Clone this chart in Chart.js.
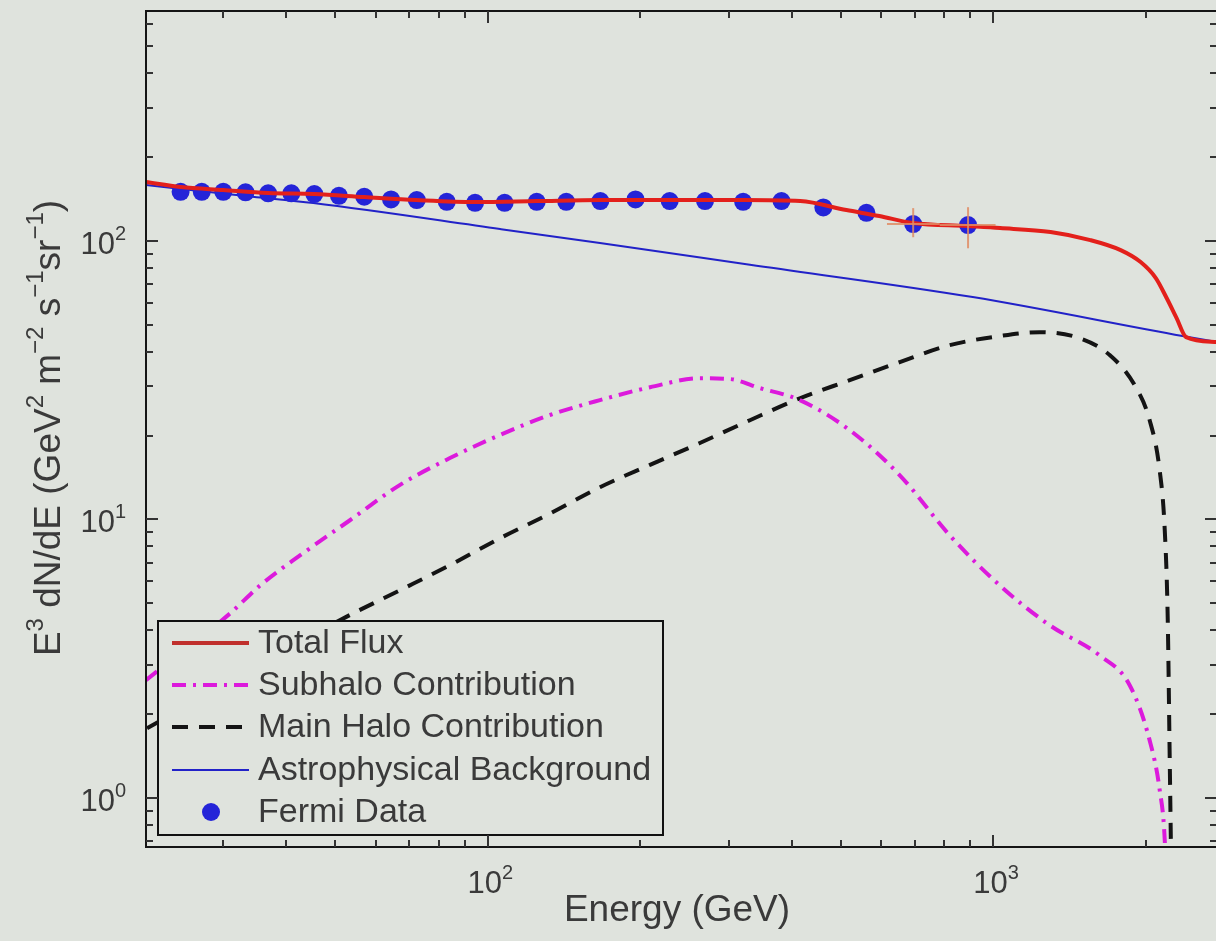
<!DOCTYPE html>
<html>
<head>
<meta charset="utf-8">
<script src="https://cdn.jsdelivr.net/npm/chart.js@4.4.1/dist/chart.umd.min.js"></script>
<style>
  html, body { margin: 0; padding: 0; background: #dfe3dd; overflow: hidden; }
  #wrap { width: 1216px; height: 941px; overflow: hidden; }
</style>
</head>
<body>
<div id="wrap"><canvas id="chart" width="1220" height="941"></canvas></div>
<script>
// Energies in GeV, fluxes as E^3 dN/dE (GeV^2 m^-2 s^-1 sr^-1)
const fermiEnergy = [24.7, 27.2, 30.0, 33.2, 36.8, 40.9, 45.4, 50.8, 57.0, 64.4, 72.4, 83.0, 94.4,
  108, 125, 143, 167, 196, 229, 269, 320, 381, 461, 561, 694, 891];
const fermiFlux = [149.9, 149.9, 149.9, 149.2, 148.0, 148.0, 147.1, 145.0, 143.9, 140.8, 140.0, 138.0, 136.9,
  136.9, 138.0, 138.0, 138.8, 140.8, 138.8, 138.8, 138.0, 138.8, 131.8, 126.0, 114.8, 113.9];
// error bars (only the last bins have bars wider than the markers)
const fermiFluxLow  = [null, null, null, null, null, null, null, null, null, null, null, null, null,
  null, null, null, null, null, null, null, null, null, null, null, 103, 94];
const fermiFluxHigh = [null, null, null, null, null, null, null, null, null, null, null, null, null,
  null, null, null, null, null, null, null, null, null, null, null, 131, 132];
const fermiEnergyLow  = [null, null, null, null, null, null, null, null, null, null, null, null, null,
  null, null, null, null, null, null, null, null, null, null, null, 616, 783];
const fermiEnergyHigh = [null, null, null, null, null, null, null, null, null, null, null, null, null,
  null, null, null, null, null, null, null, null, null, null, null, 783, 1010];

const totalEnergy = [21.1, 24.7, 30.0, 36.8, 45.4, 57.0, 72.2, 94.4, 125, 167, 229, 320, 415, 512, 595,
  693, 888, 1031, 1297, 1555, 1785, 1955, 2095, 2202, 2303, 2405, 2770];
const totalFlux = [162.5, 155.9, 152.1, 148.4, 147.1, 143.5, 140.0, 137.7, 138.8, 140.0, 140.0, 140.0, 138.8,
  128.9, 122.7, 115.8, 112.9, 111.1, 107.5, 100.6, 92.6, 83.9, 73.5, 62.2, 52.8, 45.1, 43.3];

const subhaloEnergy = [21.1, 30.95, 35.5, 42.6, 53.4, 67.1, 84.2, 105.8, 132.8, 166.7, 209.4, 262.8, 301.2,
  345.3, 414.2, 520, 653, 819.6, 1029, 1292, 1622, 1860, 2037, 2132, 2182, 2202];
const subhaloFlux = [2.65, 4.60, 5.80, 7.44, 9.93, 13.3, 16.6, 20.1, 23.7, 26.8, 29.8, 32.1, 31.9,
  29.6, 26.8, 20.9, 14.4, 8.77, 5.80, 4.17, 3.25, 2.54, 1.61, 1.07, 0.705, 0.43];

const mainHaloEnergy = [21.2, 52.3, 67.1, 84.2, 105.8, 132.8, 166.7, 209.4, 262.8, 330, 414.2, 520, 653,
  819.6, 1029, 1234, 1481, 1698, 1903, 2037, 2132, 2182, 2212, 2232, 2252];
const mainHaloFlux = [1.78, 4.45, 5.57, 6.85, 8.56, 10.5, 13.05, 15.7, 18.8, 22.7, 27.2, 31.6, 36.7,
  42.2, 45.5, 47.0, 44.7, 38.9, 30.3, 22.7, 15.0, 9.15, 4.35, 1.37, 0.43];

const backgroundEnergy = [21.1, 33.2, 45.2, 105.8, 166.7, 330, 910, 2366, 2770];
const backgroundFlux = [158.5, 144.7, 136.6, 110.2, 98.1, 82.0, 62.8, 45.5, 43.3];

// axis ranges and ticks
const xRange = [21.1, 2768];
const yRange = [0.667, 668];
const xMajorTicks = [100, 1000];
const xMinorTicks = [30, 40, 50, 60, 70, 80, 90, 200, 300, 400, 500, 600, 700, 800, 900, 2000];
const yMajorTicks = [1, 10, 100];
const yMinorTicks = [0.7, 0.8, 0.9, 2, 3, 4, 5, 6, 7, 8, 9, 20, 30, 40, 50, 60, 70, 80, 90,
  200, 300, 400, 500, 600];

const legendLabels = ['Total Flux', 'Subhalo Contribution', 'Main Halo Contribution',
  'Astrophysical Background', 'Fermi Data'];

const BG = '#dfe3dd';
const FONT = '"Liberation Sans", Arial, sans-serif';
const TEXT = '#3a3a3a';

function pairs(xs, ys) {
  return xs.map((x, i) => ({ x: x, y: ys[i] }));
}

// draw a run of text pieces, some of them raised as superscripts
function richWidth(ctx, parts, size) {
  let w = 0;
  parts.forEach(p => {
    ctx.font = (p[1] ? Math.round(size * 0.66) : size) + 'px ' + FONT;
    w += ctx.measureText(p[0]).width;
  });
  return w;
}
function drawRich(ctx, parts, x, y, size) {
  let cx = x;
  parts.forEach(p => {
    const s = p[1] ? Math.round(size * 0.66) : size;
    ctx.font = s + 'px ' + FONT;
    ctx.fillText(p[0], cx, p[1] ? y - size * 0.45 : y);
    cx += ctx.measureText(p[0]).width;
  });
}

const axesPlugin = {
  id: 'axesPlugin',
  afterDatasetsDraw(chart) {
    const ctx = chart.ctx;
    const x = chart.scales.x;
    const y = chart.scales.y;

    // error bars of the Fermi points
    ctx.save();
    ctx.strokeStyle = 'rgba(225,140,100,0.85)';
    ctx.lineWidth = 2;
    fermiEnergy.forEach((e, i) => {
      const px = x.getPixelForValue(e);
      const py = y.getPixelForValue(fermiFlux[i]);
      if (fermiFluxLow[i] !== null) {
        ctx.beginPath();
        ctx.moveTo(px, y.getPixelForValue(fermiFluxLow[i]));
        ctx.lineTo(px, y.getPixelForValue(fermiFluxHigh[i]));
        ctx.stroke();
      }
      if (fermiEnergyLow[i] !== null) {
        ctx.beginPath();
        ctx.moveTo(x.getPixelForValue(fermiEnergyLow[i]), py);
        ctx.lineTo(x.getPixelForValue(fermiEnergyHigh[i]), py);
        ctx.stroke();
      }
    });
    ctx.restore();

    // legend box in the lower left corner
    const lx = 158, ly = 621, lw = 505, lh = 214;
    ctx.save();
    ctx.fillStyle = BG;
    ctx.fillRect(lx, ly, lw, lh);
    ctx.strokeStyle = '#111';
    ctx.lineWidth = 2;
    ctx.strokeRect(lx, ly, lw, lh);
    const ds = chart.data.datasets;
    const rowY = [643, 685, 727, 770, 812];
    ctx.font = '34px ' + FONT;
    ctx.textBaseline = 'middle';
    legendLabels.forEach((label, i) => {
      const d = ds.find(s => s.label === label);
      const yy = rowY[i];
      if (d.showLine) {
        ctx.beginPath();
        ctx.strokeStyle = d.legendColor || d.borderColor;
        ctx.lineWidth = d.borderWidth;
        ctx.setLineDash(d.borderDash || []);
        ctx.moveTo(172, yy);
        ctx.lineTo(249, yy);
        ctx.stroke();
        ctx.setLineDash([]);
      } else {
        ctx.beginPath();
        ctx.fillStyle = d.backgroundColor;
        ctx.arc(211, yy, 9, 0, Math.PI * 2);
        ctx.fill();
      }
      ctx.fillStyle = TEXT;
      ctx.fillText(label, 258, yy + 1);
    });
    ctx.restore();
  },
  afterDraw(chart) {
    const ctx = chart.ctx;
    const a = chart.chartArea;
    const x = chart.scales.x;
    const y = chart.scales.y;
    ctx.save();

    // frame
    ctx.strokeStyle = '#151515';
    ctx.lineWidth = 2;
    ctx.strokeRect(a.left, a.top, a.right - a.left, a.bottom - a.top);

    // inward ticks on all four sides
    ctx.lineWidth = 2;
    ctx.strokeStyle = '#333';
    const tickX = (v, len) => {
      const px = Math.round(x.getPixelForValue(v));
      ctx.beginPath();
      ctx.moveTo(px, a.bottom); ctx.lineTo(px, a.bottom - len);
      ctx.moveTo(px, a.top); ctx.lineTo(px, a.top + len);
      ctx.stroke();
    };
    const tickY = (v, len) => {
      const py = Math.round(y.getPixelForValue(v));
      ctx.beginPath();
      ctx.moveTo(a.left, py); ctx.lineTo(a.left + len, py);
      ctx.moveTo(a.right, py); ctx.lineTo(a.right - len, py);
      ctx.stroke();
    };
    xMinorTicks.forEach(v => tickX(v, 7));
    xMajorTicks.forEach(v => tickX(v, 12));
    yMinorTicks.forEach(v => tickY(v, 7));
    yMajorTicks.forEach(v => tickY(v, 12));

    // tick labels as powers of ten
    const size = 31;
    ctx.fillStyle = TEXT;
    ctx.textBaseline = 'alphabetic';
    ctx.textAlign = 'left';
    xMajorTicks.forEach(v => {
      const parts = [['10', false], [String(Math.round(Math.log10(v))), true]];
      const px = x.getPixelForValue(v);
      ctx.font = size + 'px ' + FONT;
      const w10 = ctx.measureText('10').width;
      drawRich(ctx, parts, px - w10 / 2 - 3, 893, size);
    });
    yMajorTicks.forEach(v => {
      const parts = [['10', false], [String(Math.round(Math.log10(v))), true]];
      const py = y.getPixelForValue(v);
      const w = richWidth(ctx, parts, size);
      drawRich(ctx, parts, 126 - w, py + 13, size);
    });

    // axis titles
    const tsize = 37;
    ctx.font = tsize + 'px ' + FONT;
    const xt = 'Energy (GeV)';
    const xtw = ctx.measureText(xt).width;
    ctx.fillText(xt, 677 - xtw / 2, 921);

    const yTitle = [['E', false], ['3', true], [' dN/dE (GeV', false], ['2', true], [' m', false],
      ['\u22122', true], [' s', false], ['\u22121', true], ['sr', false], ['\u22121', true], [')', false]];
    const ytw = richWidth(ctx, yTitle, tsize);
    ctx.translate(60, 428);
    ctx.rotate(-Math.PI / 2);
    drawRich(ctx, yTitle, -ytw / 2, 0, tsize);
    ctx.restore();
  }
};

const ctx = document.getElementById('chart').getContext('2d');
const chart = new Chart(ctx, {
  type: 'scatter',
  data: {
    datasets: [
      {
        label: 'Total Flux',
        data: pairs(totalEnergy, totalFlux),
        showLine: true,
        borderColor: '#e3201b',
        legendColor: '#c0302c',
        borderWidth: 4,
        pointRadius: 0,
        cubicInterpolationMode: 'monotone',
        order: 1
      },
      {
        label: 'Subhalo Contribution',
        data: pairs(subhaloEnergy, subhaloFlux),
        showLine: true,
        borderColor: '#dc1adc',
        borderWidth: 4,
        borderDash: [14, 7, 3, 7],
        pointRadius: 0,
        cubicInterpolationMode: 'monotone',
        order: 3
      },
      {
        label: 'Main Halo Contribution',
        data: pairs(mainHaloEnergy, mainHaloFlux),
        showLine: true,
        borderColor: '#141414',
        borderWidth: 4,
        borderDash: [16, 11],
        pointRadius: 0,
        cubicInterpolationMode: 'monotone',
        order: 3
      },
      {
        label: 'Astrophysical Background',
        data: pairs(backgroundEnergy, backgroundFlux),
        showLine: true,
        borderColor: '#2222c8',
        borderWidth: 2,
        pointRadius: 0,
        cubicInterpolationMode: 'monotone',
        order: 3
      },
      {
        label: 'Fermi Data',
        data: pairs(fermiEnergy, fermiFlux),
        showLine: false,
        backgroundColor: '#2424d8',
        borderWidth: 0,
        pointRadius: 9,
        order: 2
      }
    ]
  },
  options: {
    responsive: false,
    animation: false,
    devicePixelRatio: 1,
    layout: { autoPadding: false, padding: { left: 146, top: 11, right: 3, bottom: 94 } },
    plugins: { legend: { display: false }, tooltip: { enabled: false } },
    scales: {
      x: { type: 'logarithmic', display: false, min: xRange[0], max: xRange[1] },
      y: { type: 'logarithmic', display: false, min: yRange[0], max: yRange[1] }
    }
  },
  plugins: [axesPlugin]
});
</script>
</body>
</html>
